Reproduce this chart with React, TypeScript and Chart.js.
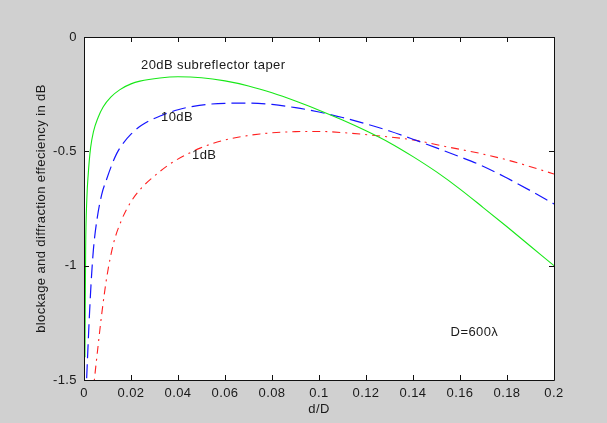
import React, { useEffect, useRef } from "react";
import { Chart, registerables } from "chart.js";

Chart.register(...registerables);

// 20dB subreflector taper (green, solid)
const greenX = [0.0004, 0.0007, 0.0012, 0.0018, 0.0028, 0.004, 0.006, 0.0082, 0.0115, 0.0153, 0.02, 0.0238, 0.0323, 0.04, 0.05, 0.06, 0.07, 0.08, 0.09, 0.1, 0.11, 0.12, 0.13, 0.14, 0.15, 0.16, 0.17, 0.18, 0.19, 0.2];
const greenY = [-1.40, -0.93, -0.71, -0.60, -0.485, -0.415, -0.352, -0.305, -0.262, -0.230, -0.205, -0.193, -0.179, -0.174, -0.178, -0.192, -0.214, -0.244, -0.28, -0.32, -0.363, -0.41, -0.462, -0.523, -0.59, -0.665, -0.747, -0.83, -0.915, -1.0];

// 10dB (blue, dashed)
const blueX = [0.0008, 0.0011, 0.0016, 0.0022, 0.003, 0.004, 0.0055, 0.0075, 0.0097, 0.0118, 0.0139, 0.016, 0.02, 0.0245, 0.033, 0.04, 0.0465, 0.052, 0.06, 0.07, 0.08, 0.09, 0.1, 0.11, 0.12, 0.13, 0.14, 0.15, 0.16, 0.17, 0.18, 0.19, 0.2];
const blueY = [-1.58, -1.5, -1.38, -1.24, -1.08, -0.93, -0.80, -0.69, -0.62, -0.56, -0.51, -0.474, -0.425, -0.386, -0.343, -0.318, -0.303, -0.295, -0.29, -0.289, -0.295, -0.309, -0.328, -0.352, -0.38, -0.411, -0.447, -0.485, -0.524, -0.566, -0.617, -0.672, -0.73];

// 1dB (red, dash-dot)
const redX = [0.0038, 0.0044, 0.006, 0.0075, 0.0097, 0.0125, 0.016, 0.02, 0.0245, 0.0288, 0.0366, 0.0444, 0.0494, 0.0593, 0.0749, 0.09, 0.1, 0.11, 0.126, 0.14, 0.1543, 0.1685, 0.1827, 0.2];
const redY = [-1.56, -1.5, -1.35, -1.215, -1.05, -0.905, -0.80, -0.72, -0.66, -0.618, -0.555, -0.51, -0.486, -0.452, -0.424, -0.414, -0.413, -0.418, -0.433, -0.45, -0.48, -0.509, -0.545, -0.599];

const xTicks = [0, 0.02, 0.04, 0.06, 0.08, 0.1, 0.12, 0.14, 0.16, 0.18, 0.2];
const yTicks = [-1.5, -1, -0.5, 0];

const annotations = [
  { text: "20dB subreflector taper", x: 0.0243, y: -0.125 },
  { text: "10dB", x: 0.0328, y: -0.35 },
  { text: "1dB", x: 0.046, y: -0.52 },
  { text: "D=600\u03bb", x: 0.156, y: -1.294 },
];

const xTitle = "d/D";
const yTitle = "blockage and diffraction effeciency in dB";

const FONT = "'Liberation Sans', Arial, sans-serif";
const TEXT = "#1a1a1a";

const toPts = (xs: number[], ys: number[]) => xs.map((x, i) => ({ x, y: ys[i] }));

export default function App() {
  const ref = useRef<HTMLCanvasElement | null>(null);

  useEffect(() => {
    document.body.style.margin = "0";
    const canvas = ref.current!;
    const framePlugin = {
      id: "frame",
      beforeDraw(chart: any) {
        const ctx = chart.ctx;
        const a = chart.chartArea;
        ctx.save();
        ctx.fillStyle = "#d0d0d0";
        ctx.fillRect(0, 0, chart.width, chart.height);
        ctx.fillStyle = "#ffffff";
        ctx.fillRect(a.left, a.top, a.right - a.left, a.bottom - a.top);
        ctx.restore();
        (ctx as any).letterSpacing = "0.4px";
      },
      afterDraw(chart: any) {
        const ctx = chart.ctx;
        const a = chart.chartArea;
        const xs = chart.scales.x;
        const ys = chart.scales.y;
        ctx.save();
        ctx.strokeStyle = "#111";
        ctx.lineWidth = 1;
        ctx.beginPath();
        ctx.rect(Math.round(a.left) + 0.5, Math.round(a.top) + 0.5, Math.round(a.right - a.left), Math.round(a.bottom - a.top));
        ctx.stroke();
        ctx.beginPath();
        const tl = 5;
        xTicks.forEach((v) => {
          const px = Math.round(xs.getPixelForValue(v)) + 0.5;
          ctx.moveTo(px, a.bottom);
          ctx.lineTo(px, a.bottom - tl);
          ctx.moveTo(px, a.top);
          ctx.lineTo(px, a.top + tl);
        });
        yTicks.forEach((v) => {
          const py = Math.round(ys.getPixelForValue(v)) + 0.5;
          ctx.moveTo(a.left, py);
          ctx.lineTo(a.left + tl, py);
          ctx.moveTo(a.right, py);
          ctx.lineTo(a.right - tl, py);
        });
        ctx.stroke();

        ctx.fillStyle = TEXT;
        ctx.font = `13px ${FONT}`;
        (ctx as any).letterSpacing = "0.4px";
        ctx.textBaseline = "middle";
        ctx.textAlign = "left";
        annotations.forEach((t) => {
          ctx.fillText(t.text, xs.getPixelForValue(t.x), ys.getPixelForValue(t.y));
        });
        ctx.textAlign = "center";
        ctx.fillText(xTitle, (a.left + a.right) / 2, 409);
        ctx.translate(41, (a.top + a.bottom) / 2);
        ctx.rotate(-Math.PI / 2);
        ctx.fillText(yTitle, 0, 0);
        ctx.restore();
      },
    };

    const chart = new Chart(canvas, {
      type: "line",
      data: {
        datasets: [
          {
            label: "20dB",
            data: toPts(greenX, greenY),
            borderColor: "#18e818",
            borderWidth: 1.1,
            pointRadius: 0,
            cubicInterpolationMode: "monotone",
            fill: false,
          },
          {
            label: "10dB",
            data: toPts(blueX, blueY),
            borderColor: "#1515ff",
            borderWidth: 1.2,
            borderDash: [14, 6],
            pointRadius: 0,
            cubicInterpolationMode: "monotone",
            fill: false,
          },
          {
            label: "1dB",
            data: toPts(redX, redY),
            borderColor: "#ff2020",
            borderWidth: 1.1,
            borderDash: [8, 5, 2, 5],
            pointRadius: 0,
            cubicInterpolationMode: "monotone",
            fill: false,
          },
        ],
      },
      options: {
        responsive: false,
        animation: false,
        devicePixelRatio: 1,
        layout: { padding: { top: 37, right: 53, left: 0, bottom: 0 } },
        plugins: { legend: { display: false }, tooltip: { enabled: false } },
        scales: {
          x: {
            type: "linear",
            min: 0,
            max: 0.2,
            afterFit: (s: any) => { s.height = 43; },
            afterBuildTicks: (s: any) => { s.ticks = xTicks.map((v) => ({ value: v })); },
            grid: { display: false, drawTicks: false },
            border: { display: false },
            ticks: {
              color: TEXT,
              font: { size: 13, family: FONT },
              padding: 6,
              maxRotation: 0,
              autoSkip: false,
              callback: (v: any) => String(Number(Number(v).toFixed(2))),
            },
          },
          y: {
            type: "linear",
            min: -1.5,
            max: 0,
            afterFit: (s: any) => { s.width = 84; },
            afterBuildTicks: (s: any) => { s.ticks = yTicks.map((v) => ({ value: v })); },
            grid: { display: false, drawTicks: false },
            border: { display: false },
            ticks: {
              color: TEXT,
              font: { size: 13, family: FONT },
              padding: 7,
              autoSkip: false,
              callback: (v: any) => String(Number(Number(v).toFixed(2))),
            },
          },
        },
      },
      plugins: [framePlugin],
    } as any);
    return () => chart.destroy();
  }, []);

  return <canvas ref={ref} width={607} height={423} style={{ display: "block" }} />;
}
